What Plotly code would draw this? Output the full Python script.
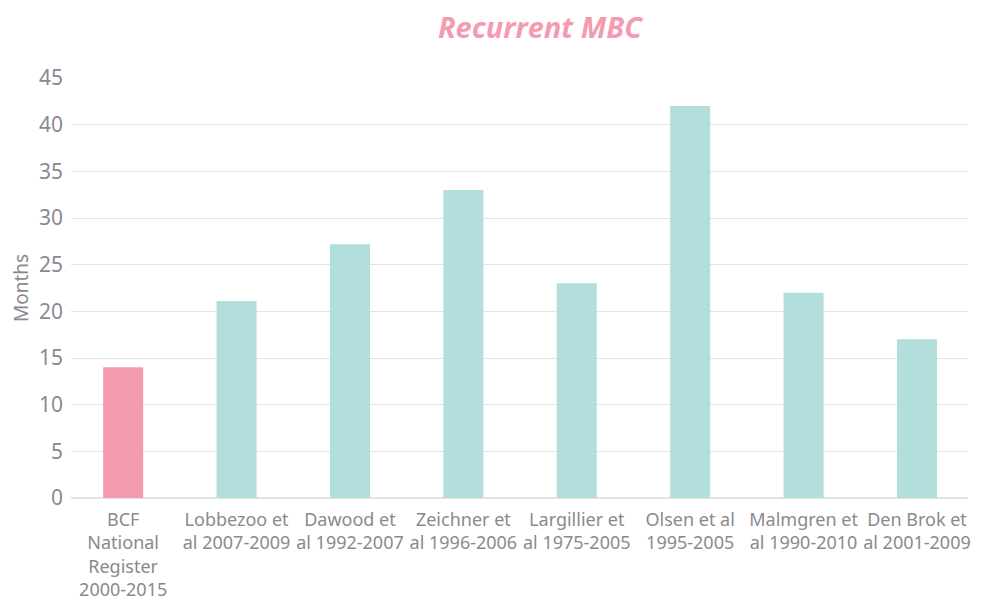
import plotly.graph_objects as go

categories = [
    "BCF<br>National<br>Register<br>2000-2015",
    "Lobbezoo et<br>al 2007-2009",
    "Dawood et<br>al 1992-2007",
    "Zeichner et<br>al 1996-2006",
    "Largillier et<br>al 1975-2005",
    "Olsen et al<br>1995-2005",
    "Malmgren et<br>al 1990-2010",
    "Den Brok et<br>al 2001-2009",
]
values = [14, 21.1, 27.2, 33, 23, 42, 22, 17]
bar_colors = ["#f49bb0"] + ["#b2dfdb"] * 7
y_ticks = [0, 5, 10, 15, 20, 25, 30, 35, 40, 45]

# page body has an 8px default margin; figure sized to fit inside the window
W, H = 974, 592
L, R, T, B = 63, 14, 70, 102

fig = go.Figure(
    go.Bar(
        x=list(range(len(categories))),
        y=values,
        marker=dict(color=bar_colors, line=dict(width=0)),
        width=0.353,
        hoverinfo="skip",
    )
)

fig.update_layout(
    width=W,
    height=H,
    margin=dict(l=L, r=R, t=T, b=B, autoexpand=False),
    paper_bgcolor="white",
    plot_bgcolor="white",
    showlegend=False,
    font=dict(family="'Noto Sans', sans-serif", color="#8a8a8e", size=18),
    title=dict(
        text="<b><i>Recurrent MBC</i></b>",
        x=532 / W,
        xref="container",
        xanchor="center",
        y=1 - 20 / H,
        yref="container",
        yanchor="middle",
        font=dict(family="'Open Sans', sans-serif", size=29, color="#f49bb0"),
    ),
    xaxis=dict(
        range=[-0.46, 7.45],
        tickmode="array",
        tickvals=list(range(len(categories))),
        ticktext=categories,
        showgrid=False,
        showline=False,
        zeroline=False,
        ticks="",
        automargin=False,
        ticklabelstandoff=9,
        tickfont=dict(size=18, color="#8a8a8e"),
        fixedrange=True,
    ),
    yaxis=dict(
        range=[0, 45],
        tickmode="array",
        tickvals=y_ticks,
        showgrid=True,
        gridcolor="#e3e3e3",
        gridwidth=1,
        zeroline=True,
        zerolinecolor="#e3e3e3",
        zerolinewidth=2,
        showline=False,
        ticks="",
        automargin=False,
        ticklabelstandoff=7,
        tickfont=dict(size=21, color="#8a8a8e"),
        fixedrange=True,
    ),
    annotations=[
        dict(
            text="Months",
            xref="paper",
            yref="paper",
            x=-(L - 13) / (W - L - R),
            y=0.5,
            xanchor="center",
            yanchor="middle",
            textangle=-90,
            showarrow=False,
            font=dict(size=19, color="#8a8a8e"),
        )
    ],
)

fig.write_html("out.html")
